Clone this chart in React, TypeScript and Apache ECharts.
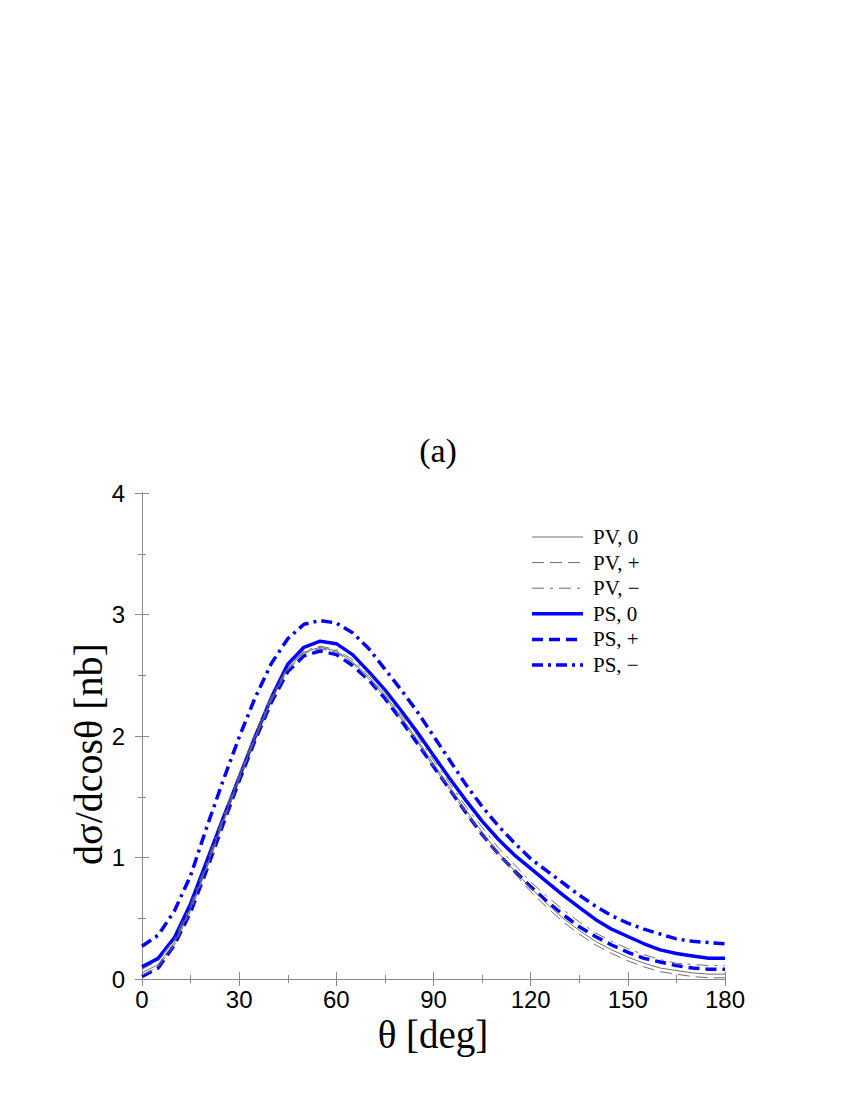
import React, { useEffect, useRef } from "react";
import * as echarts from "echarts";

const theta = [0, 5, 10, 15, 20, 25, 30, 35, 40, 45, 50, 55, 60, 65, 70, 75, 80, 85, 90, 95, 100, 105, 110, 115, 120, 125, 130, 135, 140, 145, 150, 155, 160, 165, 170, 175, 180];

const pvZero = [0.05, 0.12, 0.30, 0.58, 0.93, 1.30, 1.66, 2.00, 2.31, 2.56, 2.69, 2.73, 2.70, 2.61, 2.49, 2.34, 2.16, 1.97, 1.77, 1.58, 1.39, 1.21, 1.04, 0.89, 0.75, 0.62, 0.50, 0.40, 0.31, 0.24, 0.18, 0.13, 0.09, 0.07, 0.05, 0.04, 0.04];
const pvPlus = [0.03, 0.10, 0.28, 0.56, 0.91, 1.28, 1.64, 1.98, 2.29, 2.54, 2.68, 2.72, 2.69, 2.60, 2.47, 2.32, 2.14, 1.95, 1.75, 1.56, 1.37, 1.19, 1.02, 0.87, 0.72, 0.59, 0.47, 0.37, 0.28, 0.21, 0.15, 0.10, 0.06, 0.04, 0.02, 0.01, 0.01];
const pvMinus = [0.08, 0.15, 0.33, 0.61, 0.96, 1.33, 1.69, 2.03, 2.33, 2.57, 2.70, 2.74, 2.71, 2.63, 2.51, 2.36, 2.18, 2.00, 1.80, 1.61, 1.42, 1.25, 1.08, 0.94, 0.80, 0.68, 0.57, 0.47, 0.38, 0.31, 0.25, 0.20, 0.16, 0.13, 0.12, 0.11, 0.11];
const psZero = [0.10, 0.17, 0.34, 0.62, 0.97, 1.32, 1.66, 2.00, 2.32, 2.59, 2.73, 2.78, 2.76, 2.67, 2.53, 2.38, 2.21, 2.03, 1.84, 1.65, 1.47, 1.30, 1.15, 1.02, 0.91, 0.80, 0.69, 0.59, 0.49, 0.41, 0.35, 0.29, 0.24, 0.21, 0.19, 0.17, 0.17];
const psPlus = [0.02, 0.09, 0.28, 0.55, 0.90, 1.27, 1.63, 1.97, 2.28, 2.53, 2.66, 2.70, 2.67, 2.58, 2.46, 2.31, 2.13, 1.94, 1.75, 1.56, 1.37, 1.19, 1.03, 0.89, 0.76, 0.64, 0.53, 0.43, 0.35, 0.28, 0.22, 0.17, 0.14, 0.11, 0.09, 0.08, 0.08];
const psMinus = [0.27, 0.36, 0.56, 0.85, 1.25, 1.63, 1.99, 2.32, 2.60, 2.80, 2.92, 2.95, 2.93, 2.85, 2.72, 2.55, 2.38, 2.20, 2.00, 1.80, 1.60, 1.42, 1.26, 1.12, 0.99, 0.89, 0.79, 0.69, 0.60, 0.52, 0.46, 0.41, 0.37, 0.33, 0.31, 0.30, 0.29];

const seriesNames = ["PV, 0", "PV, +", "PV, \u2212", "PS, 0", "PS, +", "PS, \u2212"];
const xTicks = { min: 0, max: 180, interval: 30 };
const yTicks = { min: 0, max: 4, interval: 1 };
const yTitle = "d\u03c3/dcos\u03b8 [nb]";
const xTitle = "\u03b8 [deg]";

const GRAY = "#6e6e6e";
const BLUE = "#0000ff";
const FRAME = "#8a8a8a";

export default function App() {
  const ref = useRef<HTMLDivElement>(null);
  useEffect(() => {
    const chart = echarts.init(ref.current!, null, { renderer: "svg" });
    const pair = (vals: number[]) => theta.map((t, i) => [t, vals[i]]);
    const styles: { color: string; width: number; dash: number[] | null }[] = [
      { color: GRAY, width: 1, dash: null },
      { color: GRAY, width: 1, dash: [12, 6] },
      { color: GRAY, width: 1, dash: [12, 6, 3, 6] },
      { color: BLUE, width: 3.5, dash: null },
      { color: BLUE, width: 3.5, dash: [11, 6] },
      { color: BLUE, width: 3.5, dash: [11, 5, 3, 5] },
    ];
    const datasets = [pvZero, pvPlus, pvMinus, psZero, psPlus, psMinus];
    const axisCommon = {
      axisLine: { show: true, lineStyle: { color: FRAME, width: 1 } },
      axisTick: { show: true, inside: true, length: 7, lineStyle: { color: FRAME } },
      minorTick: { show: true, splitNumber: 2, length: 4, lineStyle: { color: FRAME } },
      splitLine: { show: false },
      minorSplitLine: { show: false },
    };
    const legendX = 532;
    const legendY = 537;
    const legendStep = 25.6;
    const graphics: any[] = seriesNames.map((nm, i) => ({
      type: "group",
      children: [
        {
          type: "line",
          shape: { x1: legendX, y1: legendY + i * legendStep, x2: legendX + 51, y2: legendY + i * legendStep },
          style: { stroke: styles[i].color, lineWidth: styles[i].width, lineDash: styles[i].dash || undefined },
        },
        {
          type: "text",
          x: legendX + 61,
          y: legendY + i * legendStep,
          style: {
            text: nm,
            fill: "#000",
            font: "21px 'Liberation Serif'",
            verticalAlign: "middle",
            align: "left",
          },
        },
      ],
    }));
    graphics.push({
      type: "text",
      x: 88,
      y: 754,
      rotation: Math.PI / 2,
      style: {
        text: yTitle,
        fill: "#000",
        font: "40px 'Liberation Serif'",
        align: "center",
        verticalAlign: "middle",
      },
    });
    graphics.push({
      type: "text",
      x: 433,
      y: 1034,
      style: {
        text: xTitle,
        fill: "#000",
        font: "39px 'Liberation Serif'",
        align: "center",
        verticalAlign: "middle",
      },
    });
    chart.setOption({
      animation: false,
      backgroundColor: "#ffffff",
      title: {
        text: "(a)",
        left: 433,
        top: 428,
        textAlign: "center",
        textStyle: { fontFamily: "Liberation Serif", fontSize: 34, fontWeight: "normal", color: "#000" },
      },
      graphic: graphics,
      grid: { left: 142, right: 125, top: 493, bottom: 121, containLabel: false },
      xAxis: [
        {
          type: "value",
          position: "bottom",
          ...xTicks,
          ...axisCommon,
          axisLabel: { fontFamily: "Liberation Sans", fontSize: 24, color: "#000", margin: 8 },
        },
        {
          type: "value",
          position: "top",
          ...xTicks,
          ...axisCommon,
          axisLabel: { show: false },
        },
      ],
      yAxis: [
        {
          type: "value",
          position: "left",
          ...yTicks,
          ...axisCommon,
          axisLabel: { fontFamily: "Liberation Sans", fontSize: 24, color: "#000", margin: 17 },
        },
        {
          type: "value",
          position: "right",
          ...yTicks,
          ...axisCommon,
          axisLabel: { show: false },
        },
      ],
      series: datasets.map((vals, i) => ({
        name: seriesNames[i],
        type: "line",
        xAxisIndex: 0,
        yAxisIndex: 0,
        data: pair(vals),
        symbol: "none",
        smooth: false,
        z: i < 3 ? 3 : 2,
        lineStyle: { color: styles[i].color, width: styles[i].width, type: styles[i].dash || "solid" },
        itemStyle: { color: styles[i].color },
      })),
    });
    return () => chart.dispose();
  }, []);
  return <div ref={ref} style={{ position: "absolute", left: 0, top: 0, width: 850, height: 1100 }} />;
}
